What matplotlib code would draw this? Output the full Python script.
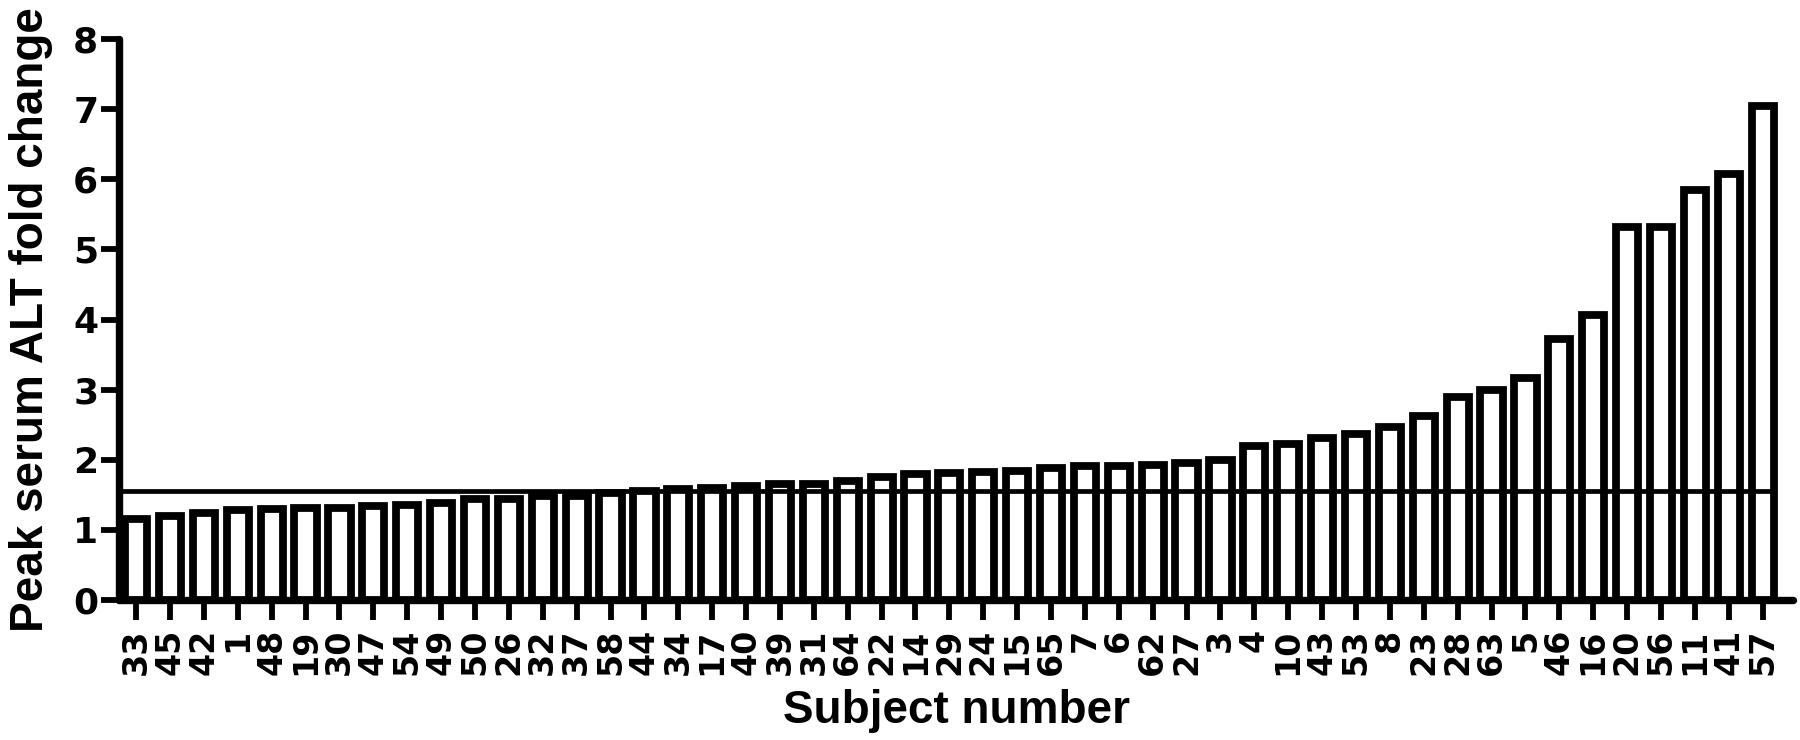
import matplotlib
matplotlib.use("Agg")
import matplotlib.pyplot as plt
import numpy as np

subjects = ["33", "45", "42", "1", "48", "19", "30", "47", "54", "49", "50", "26",
            "32", "37", "58", "44", "34", "17", "40", "39", "31", "64", "22", "14",
            "29", "24", "15", "65", "7", "6", "62", "27", "3", "4", "10", "43",
            "53", "8", "23", "28", "63", "5", "46", "16", "20", "56", "11", "41", "57"]
fold_change = [1.16, 1.20, 1.24, 1.29, 1.30, 1.31, 1.31, 1.34, 1.36, 1.38, 1.44, 1.44,
               1.48, 1.48, 1.53, 1.55, 1.58, 1.60, 1.62, 1.66, 1.66, 1.70, 1.76, 1.79,
               1.81, 1.83, 1.84, 1.88, 1.91, 1.91, 1.92, 1.95, 2.00, 2.19, 2.23, 2.31,
               2.37, 2.47, 2.62, 2.89, 2.99, 3.17, 3.72, 4.07, 5.32, 5.32, 5.85, 6.07, 7.04]
threshold = 1.55
yticks = [0, 1, 2, 3, 4, 5, 6, 7, 8]

plt.rcParams['font.family'] = ['Liberation Sans', 'DejaVu Sans']
plt.rcParams['font.weight'] = 'bold'
tick_font = ['DejaVu Sans']

fig = plt.figure(figsize=(18, 7.4), dpi=100)
ax = fig.add_axes([0.0662, 0.1892, 0.930, 0.758])

x = np.arange(len(subjects))
width = 0.655
ax.bar(x, fold_change, width=width, facecolor='white', edgecolor='black',
       linewidth=5.6, zorder=2)

left = -0.5
right = len(subjects) - 1 + 0.9
ax.hlines(threshold, left, x[-1] + width / 2, colors='black', linewidth=3.4, zorder=3)

ax.set_xlim(left, right)
ax.set_ylim(0, 8)
ax.set_yticks(yticks)
ax.set_yticklabels([str(t) for t in yticks], fontsize=26, fontweight='bold',
                   family=tick_font)
ax.set_xticks(x)
ax.set_xticklabels(subjects, rotation=90, fontsize=24, fontweight='bold',
                   family=tick_font)

for s in ['top', 'right']:
    ax.spines[s].set_visible(False)
for s in ['left', 'bottom']:
    ax.spines[s].set_linewidth(5.3)
    ax.spines[s].set_capstyle('round')

ax.tick_params(axis='y', length=13, width=4.2, pad=2)
ax.tick_params(axis='x', length=14.5, width=4.2, pad=6)

ax.set_xlabel("Subject number", fontsize=33, fontweight='bold')
ax.set_ylabel("Peak serum ALT fold change", fontsize=33, fontweight='bold')
ax.xaxis.set_label_coords(0.5, -0.158)
ax.yaxis.set_label_coords(-0.0395, 0.5)

fig.savefig("out.png", dpi=100, facecolor='white')
